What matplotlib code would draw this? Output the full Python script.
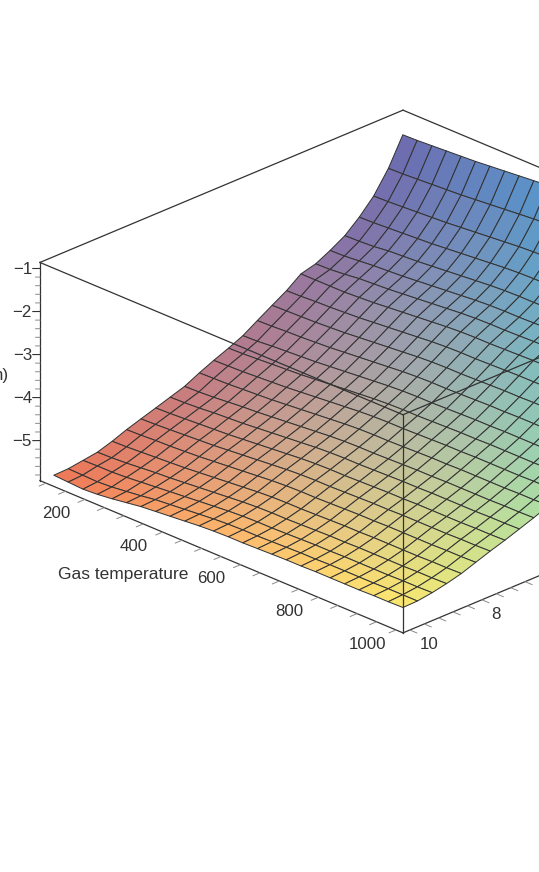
import matplotlib
matplotlib.use('Agg')
import matplotlib.pyplot as plt
import numpy as np
from mpl_toolkits.mplot3d import proj3d

plt.rcParams['font.family'] = ['Liberation Sans', 'DejaVu Sans']

# grid (25 x 25 mesh)
X_grid = [10.19, 9.79, 9.38, 8.98, 8.57, 8.17, 7.77, 7.36, 6.96, 6.56, 6.15, 5.75, 5.34,
          4.94, 4.54, 4.13, 3.73, 3.33, 2.92, 2.52, 2.11, 1.71, 1.31, 0.90, 0.50]
T_grid = [120, 157, 195, 232, 270, 307, 344, 382, 419, 457, 494, 531, 569,
          606, 644, 681, 718, 756, 793, 831, 868, 905, 943, 980, 1018]

# height of the surface, one row per gas temperature
Z_rows = [
    [-5.67, -5.66, -5.61, -5.56, -5.45, -5.32, -5.21, -5.10, -4.99, -4.88, -4.71, -4.56, -4.42, -4.27, -4.06, -3.85, -3.65, -3.40, -3.31, -3.14, -2.94, -2.65, -2.30, -1.80, -1.16],
    [-5.69, -5.67, -5.60, -5.55, -5.44, -5.31, -5.20, -5.09, -4.98, -4.87, -4.70, -4.55, -4.41, -4.26, -4.05, -3.84, -3.64, -3.40, -3.30, -3.13, -2.93, -2.64, -2.29, -1.79, -1.15],
    [-5.71, -5.68, -5.60, -5.53, -5.42, -5.29, -5.18, -5.07, -4.96, -4.85, -4.69, -4.54, -4.39, -4.23, -4.03, -3.83, -3.62, -3.40, -3.27, -3.10, -2.91, -2.62, -2.27, -1.77, -1.13],
    [-5.69, -5.66, -5.58, -5.50, -5.40, -5.28, -5.16, -5.05, -4.93, -4.82, -4.67, -4.52, -4.37, -4.21, -4.02, -3.82, -3.61, -3.40, -3.23, -3.07, -2.87, -2.60, -2.25, -1.75, -1.11],
    [-5.65, -5.62, -5.55, -5.47, -5.38, -5.26, -5.14, -5.03, -4.91, -4.79, -4.65, -4.50, -4.35, -4.19, -4.00, -3.80, -3.59, -3.38, -3.21, -3.05, -2.85, -2.58, -2.23, -1.73, -1.09],
    [-5.60, -5.58, -5.52, -5.45, -5.36, -5.24, -5.12, -5.01, -4.89, -4.77, -4.63, -4.48, -4.33, -4.17, -3.98, -3.78, -3.57, -3.36, -3.19, -3.03, -2.83, -2.56, -2.21, -1.71, -1.07],
    [-5.55, -5.53, -5.49, -5.42, -5.33, -5.21, -5.09, -4.98, -4.86, -4.74, -4.60, -4.45, -4.30, -4.14, -3.95, -3.75, -3.54, -3.33, -3.16, -3.00, -2.80, -2.53, -2.18, -1.68, -1.04],
    [-5.52, -5.50, -5.46, -5.39, -5.30, -5.18, -5.06, -4.95, -4.83, -4.71, -4.57, -4.42, -4.27, -4.11, -3.92, -3.72, -3.51, -3.30, -3.13, -2.97, -2.77, -2.50, -2.15, -1.65, -1.01],
    [-5.49, -5.47, -5.43, -5.36, -5.27, -5.15, -5.03, -4.92, -4.80, -4.68, -4.54, -4.39, -4.24, -4.08, -3.89, -3.69, -3.48, -3.27, -3.10, -2.94, -2.74, -2.47, -2.12, -1.62, -0.98],
    [-5.46, -5.44, -5.40, -5.33, -5.24, -5.12, -5.00, -4.89, -4.77, -4.65, -4.51, -4.36, -4.21, -4.05, -3.86, -3.66, -3.45, -3.24, -3.07, -2.91, -2.71, -2.44, -2.09, -1.59, -0.95],
    [-5.43, -5.41, -5.37, -5.30, -5.21, -5.09, -4.97, -4.86, -4.74, -4.62, -4.48, -4.33, -4.18, -4.02, -3.83, -3.63, -3.42, -3.21, -3.04, -2.88, -2.68, -2.41, -2.06, -1.56, -0.92],
    [-5.41, -5.39, -5.35, -5.28, -5.19, -5.07, -4.95, -4.84, -4.72, -4.60, -4.46, -4.31, -4.16, -4.00, -3.81, -3.61, -3.40, -3.19, -3.02, -2.86, -2.66, -2.39, -2.04, -1.54, -0.90],
    [-5.40, -5.38, -5.34, -5.27, -5.18, -5.06, -4.94, -4.83, -4.71, -4.59, -4.45, -4.30, -4.15, -3.99, -3.80, -3.60, -3.39, -3.18, -3.01, -2.85, -2.65, -2.38, -2.03, -1.53, -0.89],
    [-5.40, -5.38, -5.34, -5.27, -5.18, -5.06, -4.94, -4.83, -4.71, -4.59, -4.45, -4.30, -4.15, -3.99, -3.80, -3.60, -3.39, -3.18, -3.01, -2.85, -2.65, -2.38, -2.03, -1.53, -0.89],
    [-5.39, -5.37, -5.33, -5.26, -5.17, -5.05, -4.93, -4.82, -4.70, -4.58, -4.44, -4.29, -4.14, -3.98, -3.79, -3.59, -3.38, -3.17, -3.00, -2.84, -2.64, -2.37, -2.02, -1.52, -0.88],
    [-5.38, -5.36, -5.32, -5.25, -5.16, -5.04, -4.92, -4.81, -4.69, -4.57, -4.43, -4.28, -4.13, -3.97, -3.78, -3.58, -3.37, -3.16, -2.99, -2.83, -2.63, -2.36, -2.01, -1.51, -0.87],
    [-5.37, -5.35, -5.31, -5.24, -5.15, -5.03, -4.91, -4.80, -4.68, -4.56, -4.42, -4.27, -4.12, -3.96, -3.77, -3.57, -3.36, -3.15, -2.98, -2.82, -2.62, -2.35, -2.00, -1.50, -0.86],
    [-5.37, -5.35, -5.31, -5.24, -5.15, -5.03, -4.91, -4.80, -4.68, -4.56, -4.42, -4.27, -4.12, -3.96, -3.77, -3.57, -3.36, -3.15, -2.98, -2.82, -2.62, -2.35, -2.00, -1.50, -0.86],
    [-5.36, -5.34, -5.30, -5.23, -5.14, -5.02, -4.90, -4.79, -4.67, -4.55, -4.41, -4.26, -4.11, -3.95, -3.76, -3.56, -3.35, -3.14, -2.97, -2.81, -2.61, -2.34, -1.99, -1.49, -0.85],
    [-5.36, -5.34, -5.30, -5.23, -5.14, -5.02, -4.90, -4.79, -4.67, -4.55, -4.41, -4.26, -4.11, -3.95, -3.76, -3.56, -3.35, -3.14, -2.97, -2.81, -2.61, -2.34, -1.99, -1.49, -0.85],
    [-5.36, -5.34, -5.30, -5.23, -5.14, -5.02, -4.90, -4.79, -4.67, -4.55, -4.41, -4.26, -4.11, -3.95, -3.76, -3.56, -3.35, -3.14, -2.97, -2.81, -2.61, -2.34, -1.99, -1.49, -0.85],
    [-5.36, -5.34, -5.30, -5.23, -5.14, -5.02, -4.90, -4.79, -4.67, -4.55, -4.41, -4.26, -4.11, -3.95, -3.76, -3.56, -3.35, -3.14, -2.97, -2.81, -2.61, -2.34, -1.99, -1.49, -0.85],
    [-5.35, -5.33, -5.29, -5.22, -5.13, -5.01, -4.89, -4.78, -4.66, -4.54, -4.40, -4.25, -4.10, -3.94, -3.75, -3.55, -3.34, -3.13, -2.96, -2.80, -2.60, -2.33, -1.98, -1.48, -0.84],
    [-5.35, -5.33, -5.29, -5.22, -5.13, -5.01, -4.89, -4.78, -4.66, -4.54, -4.40, -4.25, -4.10, -3.94, -3.75, -3.55, -3.34, -3.13, -2.96, -2.80, -2.60, -2.33, -1.98, -1.48, -0.84],
    [-5.34, -5.33, -5.28, -5.21, -5.12, -5.00, -4.88, -4.77, -4.65, -4.53, -4.39, -4.24, -4.09, -3.93, -3.74, -3.54, -3.33, -3.12, -2.95, -2.79, -2.59, -2.32, -1.97, -1.47, -0.83],
]

T_ticks = [100, 150, 200, 250, 300, 350, 400, 450, 500, 550, 600, 650, 700, 750, 800, 850, 900, 950, 1000]
T_labels = [200, 400, 600, 800, 1000]
X_ticks = [10, 9.6, 9.2, 8.8, 8.4, 8, 7.6, 7.2, 6.8, 6.4]
X_labels = [10, 8]
Z_ticks = [-1, -2, -3, -4, -5]
Z_minor = [-1.2, -1.4, -1.6, -1.8, -2.2, -2.4, -2.6, -2.8, -3.2, -3.4, -3.6, -3.8,
           -4.2, -4.4, -4.6, -4.8, -5.2, -5.4, -5.6, -5.8]

X_lo, X_hi = 0.11, 10.19
T_lo, T_hi = 84.3, 1018
Z_lo, Z_hi = -5.93, -0.86

line_col = '#333333'
tick_col = '#8a8a8a'

fig = plt.figure(figsize=(5.39, 8.72), dpi=100)
ax = fig.add_axes([21.7 / 539, 119.2 / 872, 742.5 / 539, 742.5 / 872],
                  projection='3d', proj_type='ortho', computed_zorder=False)
ax.set_axis_off()
ax.set_box_aspect((1, 1, 0.468))
ax.view_init(elev=24.8, azim=45)
ax.set_xlim(X_lo, X_hi, view_margin=0)
ax.set_ylim(T_lo, T_hi, view_margin=0)
ax.set_zlim(Z_lo, Z_hi, view_margin=0)

Xg, Tg = np.meshgrid(X_grid, T_grid)
Z = np.array(Z_rows)

# colours blend between the four corners of the mesh, a bit paler in the middle
c_hot_far = np.array([238, 118, 85]) / 255
c_hot_near = np.array([252, 232, 108]) / 255
c_cold_far = np.array([106, 106, 176]) / 255
c_cold_near = np.array([36, 187, 219]) / 255
t = ((Tg - T_grid[0]) / (T_grid[-1] - T_grid[0]))[..., None]
u = ((X_grid[0] - Xg) / (X_grid[0] - X_grid[-1]))[..., None]
t = np.clip(t + 0.5 / 24, 0, 1)
u = np.clip(u + 0.5 / 24, 0, 1)
cols = (1 - t) * (1 - u) * c_hot_far + t * (1 - u) * c_hot_near + (1 - t) * u * c_cold_far + t * u * c_cold_near
cols = np.clip(cols + 0.14 * (t * (1 - t) + u * (1 - u)), 0, 1)

ax.plot_surface(Xg, Tg, Z, rstride=1, cstride=1, facecolors=cols, shade=False,
                edgecolor=line_col, linewidth=0.72, antialiased=True, zorder=1)

# box edges, these sit over the surface in the original
edges = [
    ((X_hi, X_hi), (T_lo, T_lo), (Z_lo, Z_hi)),
    ((X_hi, X_lo), (T_lo, T_lo), (Z_hi, Z_hi)),
    ((X_hi, X_hi), (T_lo, T_hi), (Z_hi, Z_hi)),
    ((X_lo, X_lo), (T_lo, T_hi), (Z_hi, Z_hi)),
    ((X_hi, X_lo), (T_hi, T_hi), (Z_hi, Z_hi)),
    ((X_hi, X_hi), (T_hi, T_hi), (Z_lo, Z_hi)),
    ((X_hi, X_hi), (T_lo, T_hi), (Z_lo, Z_lo)),
    ((X_hi, X_lo), (T_hi, T_hi), (Z_lo, Z_lo)),
]
for ex, et, ez in edges:
    ax.plot(ex, et, ez, color=line_col, lw=0.9, zorder=2)

# ticks
for v in T_ticks:
    ax.plot((X_hi, X_hi + 0.19), (v, v), (Z_lo, Z_lo), color=tick_col, lw=0.7, zorder=2)
for v in X_ticks:
    ax.plot((v, v), (T_hi, T_hi + 18), (Z_lo, Z_lo), color=tick_col, lw=0.7, zorder=2)
for v in Z_ticks:
    ax.plot((X_hi, X_hi + 0.1), (T_lo, T_lo - 9), (v, v), color=line_col, lw=0.8, zorder=2)
for v in Z_minor:
    ax.plot((X_hi, X_hi + 0.06), (T_lo, T_lo - 5.5), (v, v), color=tick_col, lw=0.7, zorder=2)


# tick labels go through the 3d projection, then sit as plain figure text
def label3d(x, y, z, s, **kw):
    ax.apply_aspect()
    x2, y2, _ = proj3d.proj_transform(x, y, z, ax.get_proj())
    px, py = ax.transData.transform((x2, y2))
    fig.text(px / 539, py / 872, s, va='center', fontsize=12.2, color=line_col, **kw)


for v in T_labels:
    label3d(X_hi + 0.8, v, Z_lo - 0.05, str(v), ha='center')
for v in X_labels:
    label3d(v, T_hi + 25, Z_lo - 0.25, str(v), ha='left')
for v in Z_ticks:
    label3d(X_hi + 0.11, T_lo - 10.3, v - 0.02, '\u2212' + str(abs(v)), ha='right')

fig.text(58 / 539, 1 - 575 / 872, 'Gas temperature', ha='left', va='center', fontsize=12.5, color=line_col)
fig.text(9 / 539, 1 - 375 / 872, 'n)', ha='right', va='center', fontsize=12.2, color=line_col)

fig.savefig('out.png', dpi=100)
